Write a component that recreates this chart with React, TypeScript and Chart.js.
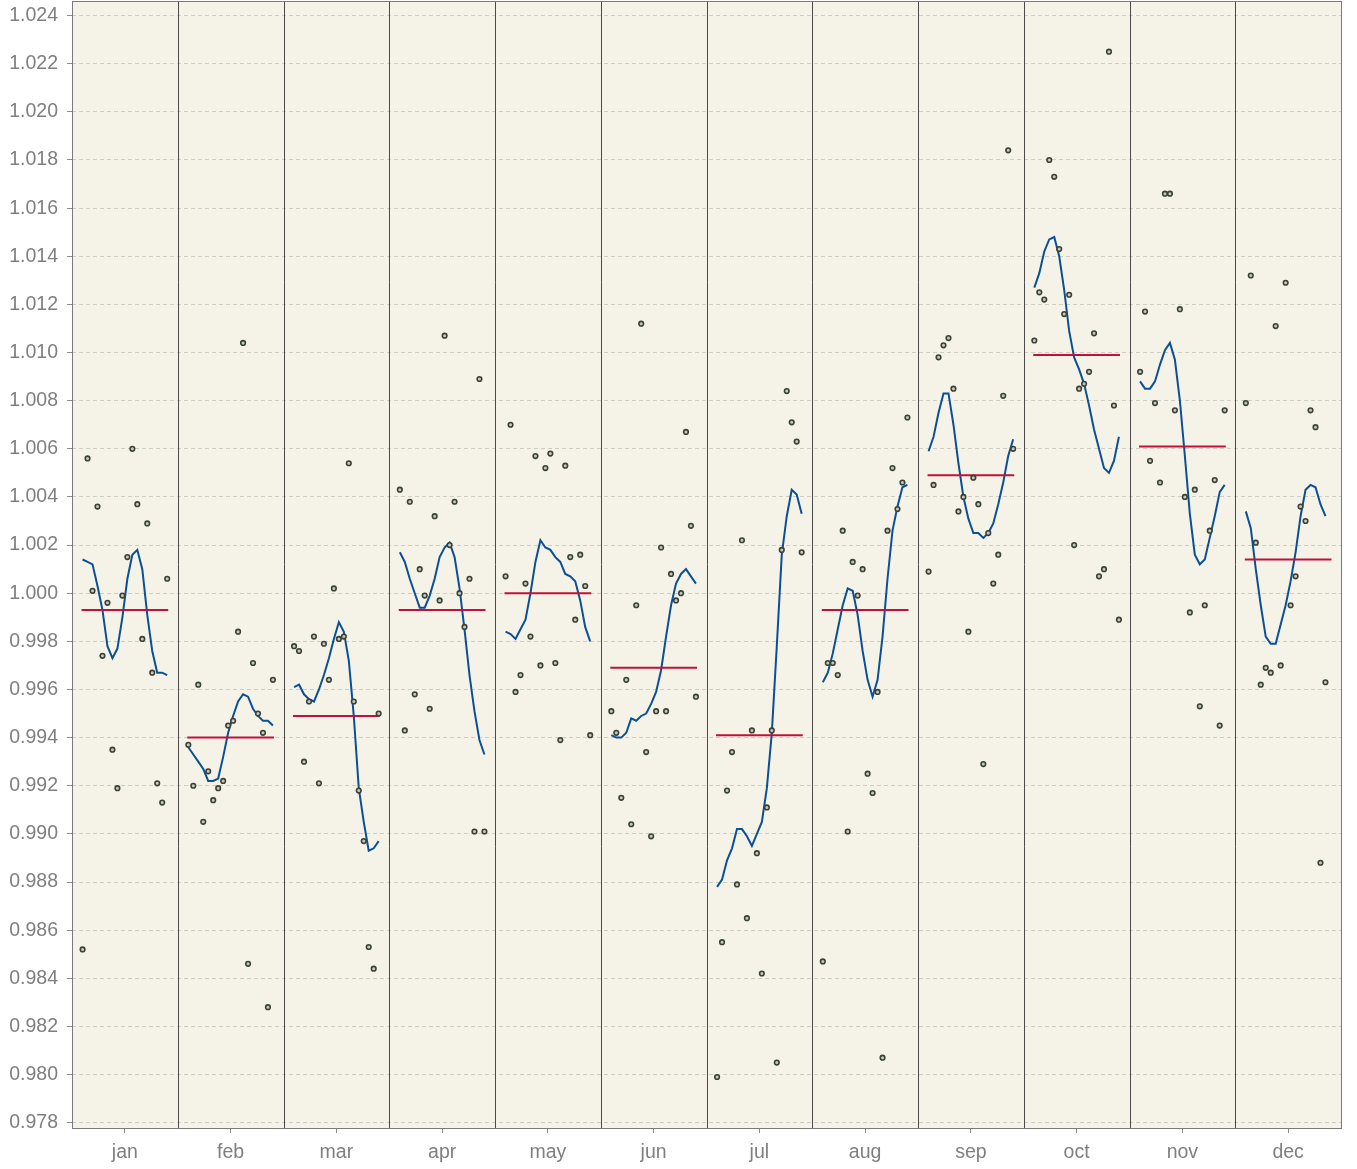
import { useEffect, useRef } from "react";
import { Chart, registerables } from "chart.js";

Chart.register(...registerables);

const months = ["jan", "feb", "mar", "apr", "may", "jun", "jul", "aug", "sep", "oct", "nov", "dec"];

const yTicks = [0.978, 0.98, 0.982, 0.984, 0.986, 0.988, 0.99, 0.992, 0.994, 0.996, 0.998, 1.0, 1.002, 1.004, 1.006, 1.008, 1.01, 1.012, 1.014, 1.016, 1.018, 1.02, 1.022, 1.024];

// observed values, one per year, for each month
const obsJan = [0.9852, 1.0056, 1.0001, 1.0036, 0.9974, 0.9996, 0.9935, 0.9919, 0.9999, 1.0015, 1.006, 1.0037, 0.9981, 1.0029, 0.9967, 0.9921, 0.9913, 1.0006];
const obsFeb = [0.9937, 0.992, 0.9962, 0.9905, 0.9926, 0.9914, 0.9919, 0.9922, 0.9945, 0.9947, 0.9984, 1.0104, 0.9846, 0.9971, 0.995, 0.9942, 0.9828, 0.9964];
const obsMar = [0.9978, 0.9976, 0.993, 0.9955, 0.9982, 0.9921, 0.9979, 0.9964, 1.0002, 0.9981, 0.9982, 1.0054, 0.9955, 0.9918, 0.9897, 0.9853, 0.9844, 0.995];
const obsApr = [1.0043, 0.9943, 1.0038, 0.9958, 1.001, 0.9999, 0.9952, 1.0032, 0.9997, 1.0107, 1.002, 1.0038, 1.0, 0.9986, 1.0006, 0.9901, 1.0089, 0.9901];
const obsMay = [1.0007, 1.007, 0.9959, 0.9966, 1.0004, 0.9982, 1.0057, 0.997, 1.0052, 1.0058, 0.9971, 0.9939, 1.0053, 1.0015, 0.9989, 1.0016, 1.0003, 0.9941];
const obsJun = [0.9951, 0.9942, 0.9915, 0.9964, 0.9904, 0.9995, 1.0112, 0.9934, 0.9899, 0.9951, 1.0019, 0.9951, 1.0008, 0.9997, 1.0, 1.0067, 1.0028, 0.9957];
const obsJul = [0.9799, 0.9855, 0.9918, 0.9934, 0.9879, 1.0022, 0.9865, 0.9943, 0.9892, 0.9842, 0.9911, 0.9943, 0.9805, 1.0018, 1.0084, 1.0071, 1.0063, 1.0017];
const obsAug = [0.9847, 0.9971, 0.9971, 0.9966, 1.0026, 0.9901, 1.0013, 0.9999, 1.001, 0.9925, 0.9917, 0.9959, 0.9807, 1.0026, 1.0052, 1.0035, 1.0046, 1.0073];
const obsSep = [1.0009, 1.0045, 1.0098, 1.0103, 1.0106, 1.0085, 1.0034, 1.004, 0.9984, 1.0048, 1.0037, 0.9929, 1.0025, 1.0004, 1.0016, 1.0082, 1.0184, 1.006];
const obsOct = [1.0105, 1.0125, 1.0122, 1.018, 1.0173, 1.0143, 1.0116, 1.0124, 1.002, 1.0085, 1.0087, 1.0092, 1.0108, 1.0007, 1.001, 1.0225, 1.0078, 0.9989];
const obsNov = [1.0092, 1.0117, 1.0055, 1.0079, 1.0046, 1.0166, 1.0166, 1.0076, 1.0118, 1.004, 0.9992, 1.0043, 0.9953, 0.9995, 1.0026, 1.0047, 0.9945, 1.0076];
const obsDec = [1.0079, 1.0132, 1.0021, 0.9962, 0.9969, 0.9967, 1.0111, 0.997, 1.0129, 0.9995, 1.0007, 1.0036, 1.003, 1.0076, 1.0069, 0.9888, 0.9963];

// smoothed trend within each month
const trendJan = [1.0014, 1.0013, 1.0012, 1.0003, 0.9993, 0.9978, 0.9973, 0.9977, 0.999, 1.0006, 1.0016, 1.0018, 1.001, 0.9991, 0.9976, 0.9967, 0.9967, 0.9966];
const trendFeb = [0.9936, 0.9933, 0.993, 0.9927, 0.9922, 0.9922, 0.9923, 0.9932, 0.9942, 0.9949, 0.9955, 0.9958, 0.9957, 0.9952, 0.9949, 0.9947, 0.9947, 0.9945];
const trendMar = [0.9961, 0.9962, 0.9958, 0.9956, 0.9955, 0.996, 0.9966, 0.9973, 0.9981, 0.9988, 0.9984, 0.9972, 0.9949, 0.9919, 0.9905, 0.9893, 0.9894, 0.9897];
const trendApr = [1.0017, 1.0013, 1.0006, 1.0, 0.9994, 0.9994, 0.9999, 1.0006, 1.0015, 1.0019, 1.0021, 1.0015, 1.0002, 0.9985, 0.9966, 0.9951, 0.9939, 0.9933];
const trendMay = [0.9984, 0.9983, 0.9981, 0.9985, 0.9989, 1.0, 1.0013, 1.0022, 1.0019, 1.0018, 1.0015, 1.0013, 1.0008, 1.0007, 1.0005, 0.9997, 0.9986, 0.998];
const trendJun = [0.9941, 0.994, 0.994, 0.9942, 0.9948, 0.9947, 0.9949, 0.995, 0.9954, 0.9959, 0.9968, 0.9982, 0.9995, 1.0004, 1.0008, 1.001, 1.0007, 1.0004];
const trendJul = [0.9878, 0.9881, 0.9889, 0.9894, 0.9902, 0.9902, 0.9899, 0.9895, 0.99, 0.9905, 0.9919, 0.9942, 0.9978, 1.0016, 1.0032, 1.0043, 1.0041, 1.0033];
const trendAug = [0.9963, 0.9967, 0.9975, 0.9985, 0.9995, 1.0002, 1.0001, 0.9991, 0.9976, 0.9964, 0.9957, 0.9964, 0.9982, 1.0006, 1.0026, 1.0036, 1.0044, 1.0045];
const trendSep = [1.0059, 1.0065, 1.0075, 1.0083, 1.0083, 1.007, 1.0054, 1.004, 1.0031, 1.0025, 1.0025, 1.0023, 1.0025, 1.0029, 1.0037, 1.0046, 1.0057, 1.0064];
const trendOct = [1.0127, 1.0133, 1.0142, 1.0147, 1.0148, 1.014, 1.0126, 1.0109, 1.0098, 1.0093, 1.0087, 1.0078, 1.0068, 1.006, 1.0052, 1.005, 1.0055, 1.0065];
const trendNov = [1.0088, 1.0085, 1.0085, 1.0088, 1.0095, 1.0101, 1.0104, 1.0097, 1.008, 1.0057, 1.0033, 1.0016, 1.0012, 1.0014, 1.0023, 1.0032, 1.0042, 1.0045];
const trendDec = [1.0034, 1.0027, 1.001, 0.9995, 0.9982, 0.9979, 0.9979, 0.9987, 0.9995, 1.0005, 1.0017, 1.0032, 1.0043, 1.0045, 1.0044, 1.0037, 1.0032];

// level (horizontal red line) of each month
const monthLevels = [0.9993, 0.994, 0.9949, 0.9993, 1.0, 0.9969, 0.9941, 0.9993, 1.0049, 1.0099, 1.0061, 1.0014];

const YEARS = 18;
const FRAME_TOP = 1; // top edge of the panel frame, in canvas pixels

export default function App() {
  const ref = useRef<HTMLCanvasElement>(null);

  useEffect(() => {
    if (!ref.current) return;
    const obs = [obsJan, obsFeb, obsMar, obsApr, obsMay, obsJun, obsJul, obsAug, obsSep, obsOct, obsNov, obsDec];
    const trends = [trendJan, trendFeb, trendMar, trendApr, trendMay, trendJun, trendJul, trendAug, trendSep, trendOct, trendNov, trendDec];
    const slot = (m: number, j: number) => m + 0.1 + (j * 0.8) / (YEARS - 1);

    const datasets: any[] = [];
    datasets.push({
      label: "obs",
      data: obs.flatMap((arr, m) => arr.map((v, j) => ({ x: slot(m, j), y: v }))),
      showLine: false,
      pointRadius: 2.3,
      pointBorderWidth: 1.6,
      pointBorderColor: "#3a4238",
      pointBackgroundColor: "#c9c9bb",
      order: 0,
    });
    trends.forEach((arr, m) => {
      datasets.push({
        label: "trend" + m,
        data: arr.map((v, j) => ({ x: slot(m, j), y: v })),
        showLine: true,
        borderColor: "#0b4f96",
        borderWidth: 2,
        pointRadius: 0,
        tension: 0,
        order: 2,
      });
    });
    monthLevels.forEach((v, m) => {
      datasets.push({
        label: "level" + m,
        data: [
          { x: m + 0.09, y: v },
          { x: m + 0.91, y: v },
        ],
        showLine: true,
        borderColor: "#c2103a",
        borderWidth: 2,
        pointRadius: 0,
        order: 1,
      });
    });

    const panelPlugin = {
      id: "panels",
      beforeDraw(chart: any) {
        const { ctx, chartArea: a } = chart;
        const top = Math.min(FRAME_TOP, a.top);
        ctx.save();
        ctx.fillStyle = "#f5f3e8";
        ctx.fillRect(a.left, top, a.right - a.left, a.bottom - top);
        ctx.restore();
      },
      beforeDatasetsDraw(chart: any) {
        const { ctx, chartArea: a, scales } = chart;
        const top = Math.min(FRAME_TOP, a.top);
        ctx.save();
        ctx.strokeStyle = "#4a4a4a";
        ctx.lineWidth = 1;
        for (let m = 1; m < months.length; m++) {
          const x = Math.round(scales.x.getPixelForValue(m)) + 0.5;
          ctx.beginPath();
          ctx.moveTo(x, top);
          ctx.lineTo(x, a.bottom);
          ctx.stroke();
        }
        ctx.strokeStyle = "#7a7a7a";
        ctx.strokeRect(Math.round(a.left) + 0.5, Math.round(top) + 0.5, Math.round(a.right - a.left), Math.round(a.bottom - top));
        ctx.restore();
      },
    };

    const font = { family: "'Liberation Sans', Arial, sans-serif", size: 19.5 };

    const chart = new Chart(ref.current, {
      type: "scatter",
      data: { datasets },
      options: {
        animation: false,
        responsive: false,
        events: [],
        layout: { padding: { top: 1, right: 16, bottom: 0, left: 0 } },
        plugins: { legend: { display: false }, tooltip: { enabled: false } },
        scales: {
          x: {
            type: "linear",
            min: 0,
            max: 12,
            afterBuildTicks: (s: any) => {
              s.ticks = months.map((_, i) => ({ value: i + 0.5 }));
            },
            afterFit: (s: any) => {
              s.height = 41;
              s.paddingLeft = 0;
              s.paddingRight = 0;
            },
            ticks: {
              callback: (_v: any, i: number) => months[i],
              color: "#7f7f7f",
              font,
              padding: 8,
              maxRotation: 0,
              autoSkip: false,
            },
            grid: { drawOnChartArea: false, drawTicks: true, tickLength: 5, tickColor: "#8a8a8a" },
            border: { display: false },
          },
          y: {
            type: "linear",
            min: 0.97778,
            max: 1.024415,
            afterBuildTicks: (s: any) => {
              s.ticks = yTicks.map((v) => ({ value: v }));
            },
            afterFit: (s: any) => {
              s.width = 72;
              s.paddingTop = 0;
              s.paddingBottom = 0;
            },
            ticks: {
              callback: (v: any) => Number(v).toFixed(3),
              color: "#7f7f7f",
              font,
              padding: 9,
              autoSkip: false,
            },
            grid: { color: "#cdcdc5", lineWidth: 1, drawTicks: true, tickLength: 5, tickColor: "#8a8a8a", tickBorderDash: [] },
            border: { display: false, dash: [4, 3] },
          },
        },
      },
      plugins: [panelPlugin],
    } as any);

    return () => chart.destroy();
  }, []);

  return (
    <div style={{ position: "fixed", left: 0, top: 0, width: 1357, height: 1169, background: "#ffffff" }}>
      <canvas ref={ref} width={1357} height={1169} />
    </div>
  );
}
